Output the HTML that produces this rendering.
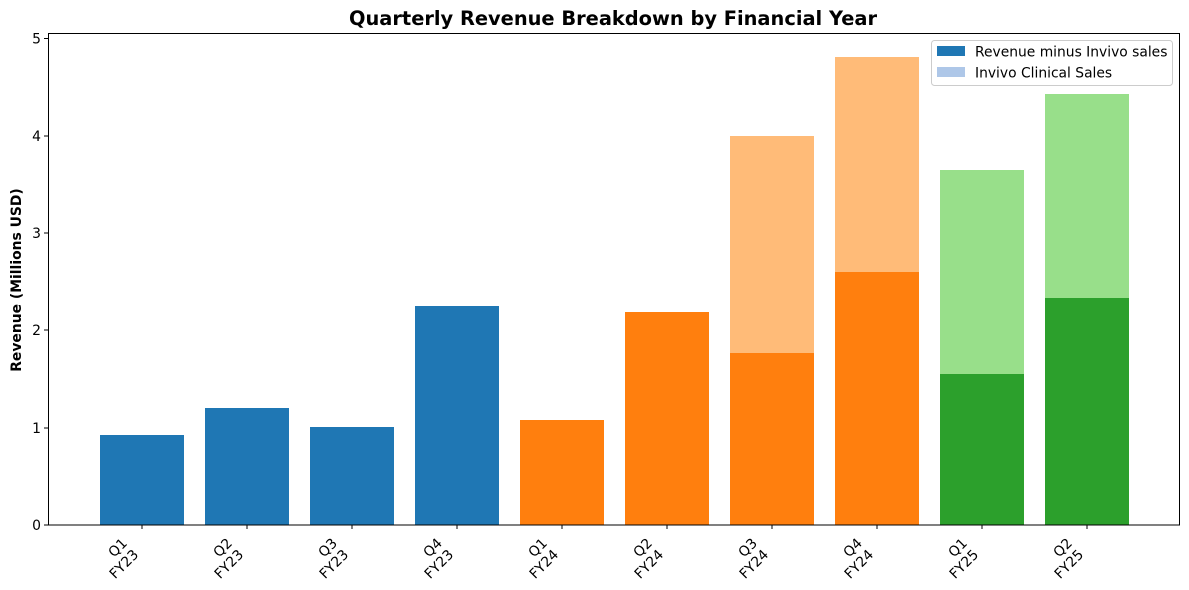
<!DOCTYPE html>
<html><head><meta charset="utf-8"><style>body{margin:0;background:#fff}svg{display:block}text{font-family:"DejaVu Sans","Liberation Sans",sans-serif}</style></head>
<body>
<svg width="1189" height="590" viewBox="0 0 1189 590" xmlns="http://www.w3.org/2000/svg">
<text x="613" y="25" text-anchor="middle" font-size="19.4" font-weight="bold">Quarterly Revenue Breakdown by Financial Year</text>
<g id="bars">
<rect x="100" y="435" width="84" height="90" fill="#1f77b4"/>
<rect x="205" y="408" width="84" height="117" fill="#1f77b4"/>
<rect x="310" y="427" width="84" height="98" fill="#1f77b4"/>
<rect x="415" y="306" width="84" height="219" fill="#1f77b4"/>
<rect x="520" y="420" width="84" height="105" fill="#ff7f0e"/>
<rect x="625" y="312" width="84" height="213" fill="#ff7f0e"/>
<rect x="730" y="353" width="84" height="172" fill="#ff7f0e"/>
<rect x="730" y="136" width="84" height="217" fill="#ffbb78"/>
<rect x="835" y="272" width="84" height="253" fill="#ff7f0e"/>
<rect x="835" y="57" width="84" height="215" fill="#ffbb78"/>
<rect x="940" y="374" width="84" height="151" fill="#2ca02c"/>
<rect x="940" y="170" width="84" height="204" fill="#98df8a"/>
<rect x="1045" y="298" width="84" height="227" fill="#2ca02c"/>
<rect x="1045" y="94" width="84" height="204" fill="#98df8a"/>
</g>
<rect x="48.5" y="33.5" width="1131" height="491.5" fill="none" stroke="#000" stroke-width="1"/>
<g stroke="#000" stroke-width="1">
<line x1="44" y1="525" x2="48" y2="525"/><line x1="44" y1="428" x2="48" y2="428"/><line x1="44" y1="330" x2="48" y2="330"/><line x1="44" y1="233" x2="48" y2="233"/><line x1="44" y1="136" x2="48" y2="136"/><line x1="44" y1="38.5" x2="48" y2="38.5"/>
</g>
<g font-size="13.9" text-anchor="end">
<text x="41" y="530">0</text><text x="41" y="433">1</text><text x="41" y="335">2</text><text x="41" y="238">3</text><text x="41" y="141">4</text><text x="41" y="43.5">5</text>
</g>
<text transform="translate(21,280) rotate(-90)" text-anchor="middle" font-size="13.9" font-weight="bold">Revenue (Millions USD)</text>
<g stroke="#000" stroke-width="1">
<line x1="142" y1="525" x2="142" y2="529"/><line x1="247" y1="525" x2="247" y2="529"/><line x1="352" y1="525" x2="352" y2="529"/><line x1="457" y1="525" x2="457" y2="529"/><line x1="562" y1="525" x2="562" y2="529"/><line x1="667" y1="525" x2="667" y2="529"/><line x1="772" y1="525" x2="772" y2="529"/><line x1="877" y1="525" x2="877" y2="529"/><line x1="982" y1="525" x2="982" y2="529"/><line x1="1087" y1="525" x2="1087" y2="529"/>
</g>
<g font-size="13.9" text-anchor="end">
<g transform="translate(128,544) rotate(-45)"><text>Q1</text><text y="16">FY23</text></g>
<g transform="translate(233,544) rotate(-45)"><text>Q2</text><text y="16">FY23</text></g>
<g transform="translate(338,544) rotate(-45)"><text>Q3</text><text y="16">FY23</text></g>
<g transform="translate(443,544) rotate(-45)"><text>Q4</text><text y="16">FY23</text></g>
<g transform="translate(548,544) rotate(-45)"><text>Q1</text><text y="16">FY24</text></g>
<g transform="translate(653,544) rotate(-45)"><text>Q2</text><text y="16">FY24</text></g>
<g transform="translate(758,544) rotate(-45)"><text>Q3</text><text y="16">FY24</text></g>
<g transform="translate(863,544) rotate(-45)"><text>Q4</text><text y="16">FY24</text></g>
<g transform="translate(968,544) rotate(-45)"><text>Q1</text><text y="16">FY25</text></g>
<g transform="translate(1073,544) rotate(-45)"><text>Q2</text><text y="16">FY25</text></g>
</g>
<rect x="931.5" y="40.5" width="241" height="45" rx="3" fill="#fff" fill-opacity="0.8" stroke="#ccc"/>
<rect x="937" y="46" width="28" height="10" fill="#1f77b4"/>
<rect x="937" y="67" width="28" height="10" fill="#aec7e8"/>
<g font-size="13.85"><text x="975" y="56.5">Revenue minus Invivo sales</text><text x="975" y="77.5">Invivo Clinical Sales</text></g>
</svg>
</body></html>
